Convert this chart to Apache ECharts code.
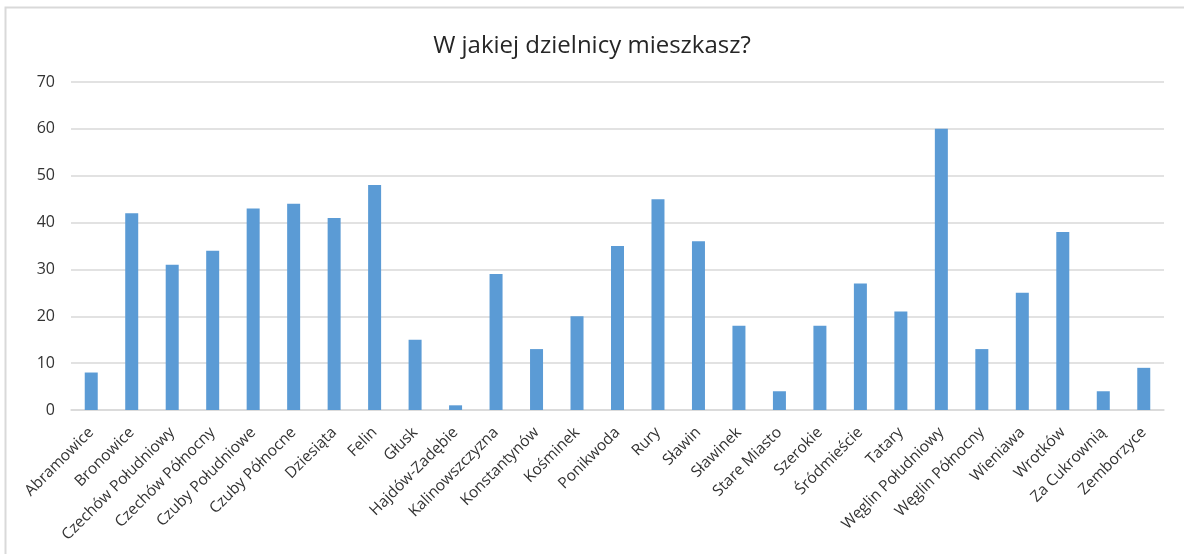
<!DOCTYPE html>
<html><head><meta charset="utf-8">
<script src="https://cdn.jsdelivr.net/npm/echarts@6/dist/echarts.min.js"></script>
<style>html,body{margin:0;padding:0;background:#fff}#c{width:1184px;height:554px}</style>
</head><body><div id="c"></div>
<script>
const categories = ["Abramowice","Bronowice","Czechów Południowy","Czechów Północny","Czuby Południowe","Czuby Północne","Dziesiąta","Felin","Głusk","Hajdów-Zadębie","Kalinowszczyzna","Konstantynów","Kośminek","Ponikwoda","Rury","Sławin","Sławinek","Stare Miasto","Szerokie","Śródmieście","Tatary","Węglin Południowy","Węglin Północny","Wieniawa","Wrotków","Za Cukrownią","Zemborzyce"];
const values = [8,42,31,34,43,44,41,48,15,1,29,13,20,35,45,36,18,4,18,27,21,60,13,25,38,4,9];
const titleText = "W jakiej dzielnicy mieszkasz?";

const chart = echarts.init(document.getElementById('c'), null, {renderer:'canvas'});
const font = "'Open Sans', 'Noto Sans', sans-serif";
chart.setOption({
  animation:false,
  backgroundColor:'#fff',
  title:{text:titleText,left:'center',top:29,textStyle:{fontFamily:font,fontSize:24,fontWeight:'normal',color:'#262626'}},
  graphic:[{type:'rect',shape:{x:5.5,y:7.5,width:1400,height:800},style:{fill:'none',stroke:'#d9d9d9',lineWidth:2}}],
  grid:{left:71,right:20,top:82,bottom:144,containLabel:false},
  xAxis:{type:'category',data:categories,
    axisLine:{lineStyle:{color:'#d9d9d9',width:1.5}},axisTick:{show:false},
    axisLabel:{rotate:45,interval:0,fontFamily:font,fontSize:15.5,color:'#333',margin:20}},
  yAxis:{type:'value',min:0,max:70,interval:10,
    axisLine:{show:false},axisTick:{show:false},
    splitLine:{lineStyle:{color:'#d9d9d9',width:1.5}},
    axisLabel:{fontFamily:font,fontSize:16,color:'#333',margin:16}},
  series:[{type:'bar',data:values,barWidth:13,itemStyle:{color:'#5b9bd5'}}]
});
</script></body></html>
